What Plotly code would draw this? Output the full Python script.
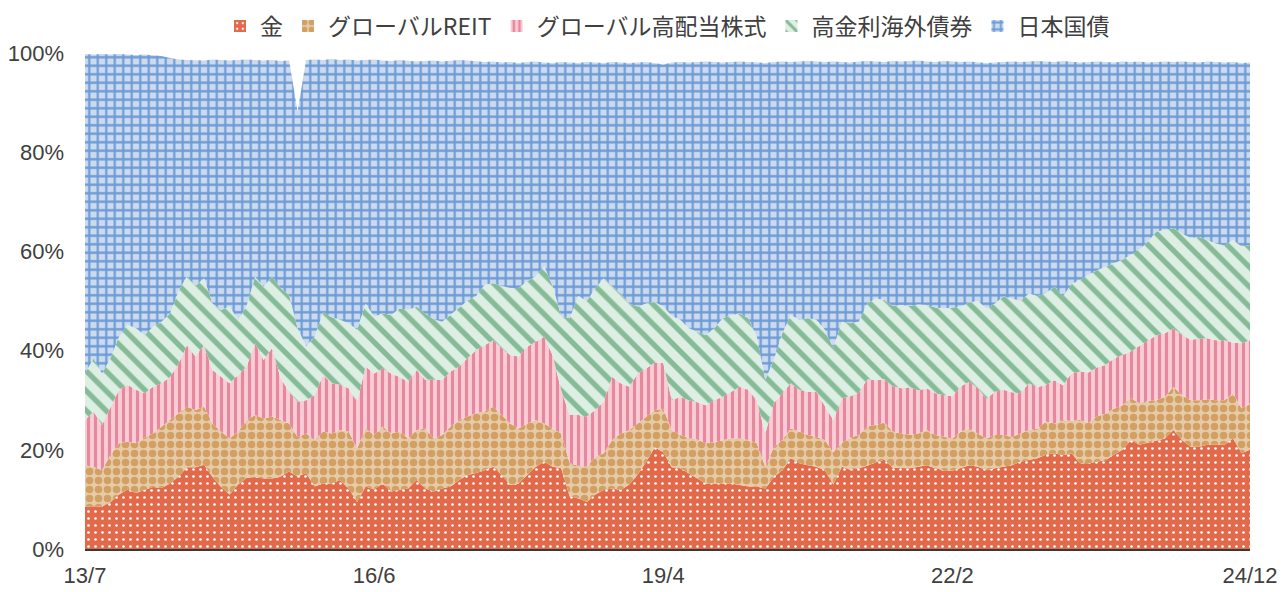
import plotly.graph_objects as go

# Monthly data 2013/7 .. 2024/12 (138 months), share of portfolio in %
months = [f"{(2013 + (6 + i) // 12) % 100:02d}/{(6 + i) % 12 + 1}" for i in range(138)]
tick_labels = ["13/7", "16/6", "19/4", "22/2", "24/12"]
tick_index = [0, 34, 68, 102, 137]

series_names = ["金", "グローバルREIT", "グローバル高配当株式", "高金利海外債券", "日本国債"]

gold = [8.5, 8.6, 8.5, 9.5, 11.0, 12.0, 11.3, 11.9, 12.5, 12.3, 13.2, 14.6, 16.5, 16.5, 17.0, 14.5,
        12.5, 11.0, 13.0, 14.3, 14.5, 14.2, 14.2, 14.6, 15.6, 14.6, 15.3, 12.6, 13.2, 13.2, 13.9, 12.2,
        9.5, 12.6, 12.0, 13.2, 11.6, 11.9, 12.2, 13.9, 12.2, 11.6, 12.2, 12.6, 13.9, 14.9, 15.3, 15.9,
        16.6, 14.9, 12.9, 13.2, 14.9, 16.6, 17.6, 16.6, 16.3, 10.6, 10.3, 9.5, 11.0, 11.9, 12.2, 11.9,
        13.0, 15.0, 17.6, 20.5, 19.5, 16.5, 16.3, 15.3, 14.2, 13.2, 13.2, 13.2, 13.2, 12.9, 12.6, 12.6,
        12.2, 14.5, 15.9, 18.3, 17.3, 16.9, 16.6, 15.9, 13.0, 16.6, 16.0, 16.3, 16.8, 17.5, 18.0, 16.4,
        16.3, 16.3, 16.6, 16.9, 16.3, 15.9, 15.8, 16.3, 16.9, 16.6, 15.9, 16.3, 16.6, 16.9, 17.6, 17.9,
        18.3, 19.0, 19.3, 18.9, 19.3, 17.3, 17.3, 17.6, 17.9, 19.0, 20.0, 22.0, 21.0, 21.4, 21.8, 22.3,
        24.0, 22.0, 20.6, 20.6, 21.0, 21.0, 21.0, 22.3, 19.3, 20.0]

reit = [8.4, 8.0, 7.4, 9.5, 10.3, 9.6, 10.0, 10.6, 10.8, 12.4, 12.8, 12.8, 12.2, 11.5, 11.7, 10.8,
        11.2, 11.3, 10.7, 11.7, 12.5, 12.1, 12.5, 11.4, 9.7, 8.0, 8.0, 9.4, 10.5, 10.1, 10.1, 11.5,
        10.8, 11.7, 11.0, 11.5, 11.7, 11.8, 10.1, 10.1, 12.1, 10.7, 10.8, 12.1, 12.1, 11.8, 12.1, 11.8,
        12.1, 12.1, 12.4, 11.1, 10.4, 9.4, 7.7, 7.7, 7.0, 6.7, 6.5, 7.1, 7.6, 7.4, 9.8, 11.4,
        11.0, 10.3, 9.1, 7.5, 8.8, 7.5, 6.7, 7.1, 7.9, 8.1, 8.3, 8.8, 9.1, 9.4, 9.4, 8.7,
        4.4, 6.0, 6.1, 6.0, 6.4, 6.1, 6.0, 6.1, 6.5, 4.7, 6.5, 6.7, 7.9, 7.5, 7.5, 7.3,
        7.0, 6.7, 6.7, 7.1, 6.7, 6.7, 6.5, 7.4, 7.4, 6.7, 6.4, 6.7, 6.4, 5.7, 5.7, 6.1,
        6.0, 6.7, 6.0, 7.1, 6.5, 8.7, 8.1, 9.1, 9.4, 9.3, 9.0, 8.4, 8.4, 8.4, 8.2, 8.4,
        8.7, 9.0, 9.4, 9.4, 9.2, 9.0, 9.0, 9.1, 9.1, 9.4]

dividend = [9.1, 11.1, 9.1, 9.5, 10.8, 11.5, 10.8, 8.9, 9.4, 8.7, 8.7, 10.0, 12.4, 10.8, 12.4, 10.8,
            11.0, 11.1, 11.4, 10.8, 14.5, 11.8, 13.8, 8.5, 6.4, 7.1, 6.7, 9.0, 11.4, 10.1, 9.1, 8.7,
            9.4, 12.5, 12.4, 11.7, 12.1, 11.0, 11.4, 12.1, 9.8, 11.8, 11.1, 11.1, 10.8, 11.8, 12.7, 13.4,
            13.4, 13.5, 13.8, 14.5, 15.5, 15.8, 17.5, 14.7, 8.7, 9.7, 10.2, 10.1, 9.4, 10.4, 12.7, 10.1,
            8.7, 10.1, 9.7, 9.6, 9.2, 6.0, 7.7, 7.6, 7.5, 7.7, 8.5, 8.7, 9.4, 10.4, 10.1, 8.7,
            6.7, 8.9, 9.4, 9.1, 8.4, 8.7, 9.1, 6.7, 6.5, 9.1, 8.3, 8.5, 9.5, 9.0, 8.7, 9.1,
            9.1, 9.6, 8.7, 8.4, 8.4, 8.4, 8.5, 9.1, 9.4, 9.1, 8.0, 8.7, 9.1, 9.0, 8.1, 9.4,
            8.3, 7.4, 8.7, 7.0, 9.6, 9.8, 10.2, 9.9, 9.8, 10.1, 10.1, 9.4, 11.6, 12.3, 13.1, 12.8,
            11.8, 12.2, 12.2, 12.4, 12.3, 12.1, 12.1, 10.2, 13.1, 12.7]

hy_bond = [9.4, 10.7, 10.4, 10.0, 10.7, 12.1, 12.4, 11.7, 12.1, 12.4, 12.8, 14.6, 13.9, 14.2, 13.5, 13.4,
           13.5, 15.5, 11.1, 12.2, 13.4, 14.8, 14.4, 18.1, 19.5, 14.8, 10.9, 11.8, 12.7, 13.3, 13.1, 13.1,
           14.5, 12.7, 11.4, 11.1, 11.8, 13.8, 14.5, 12.8, 13.4, 12.2, 11.7, 11.4, 11.9, 11.6, 10.9, 12.2,
           11.5, 12.5, 13.5, 13.8, 13.2, 13.2, 14.2, 14.0, 15.0, 19.5, 24.0, 23.3, 24.5, 24.9, 18.3, 18.1,
           16.8, 13.5, 13.1, 12.2, 11.4, 17.0, 15.5, 14.5, 14.2, 14.1, 14.5, 15.8, 15.5, 14.8, 14.4, 12.8,
           10.8, 8.7, 12.1, 13.8, 14.1, 14.8, 14.5, 15.5, 14.5, 15.4, 14.7, 14.3, 15.3, 16.5, 16.0, 16.2,
           16.8, 16.4, 17.3, 16.8, 17.3, 17.5, 17.9, 16.1, 16.0, 17.6, 18.2, 17.8, 18.8, 18.9, 18.6, 18.1,
           18.4, 18.4, 18.9, 17.9, 18.0, 18.5, 19.6, 19.6, 19.8, 19.2, 19.2, 19.5, 19.4, 19.9, 20.9, 20.8,
           20.2, 20.4, 20.5, 20.5, 19.8, 19.5, 19.1, 20.7, 19.5, 19.2]

jgb = [64.4, 61.3, 64.4, 61.2, 57.0, 54.5, 55.1, 56.6, 54.7, 53.6, 51.5, 46.7, 43.6, 45.6, 43.9, 49.2,
       50.4, 49.6, 52.4, 49.7, 43.7, 45.6, 43.7, 45.8, 47.3, 43.7, 57.7, 55.9, 50.8, 52.1, 52.4, 53.2,
       54.3, 49.1, 51.9, 51.0, 51.2, 50.1, 50.3, 49.4, 50.9, 52.2, 52.5, 51.2, 49.9, 48.4, 47.3, 44.9,
       44.7, 45.1, 45.6, 45.4, 44.2, 43.3, 41.1, 45.0, 51.2, 51.6, 47.0, 48.2, 45.6, 43.4, 45.2, 46.6,
       48.5, 49.2, 48.7, 48.2, 48.8, 51.1, 52.0, 53.6, 54.4, 55.2, 53.7, 51.6, 51.0, 50.8, 51.7, 55.3,
       63.9, 60.1, 54.8, 51.0, 52.1, 51.9, 52.1, 54.0, 57.8, 52.4, 52.6, 52.5, 48.9, 47.8, 48.0, 49.4,
       49.1, 49.4, 49.2, 49.1, 49.5, 49.9, 49.6, 49.3, 48.6, 48.2, 49.5, 48.6, 47.3, 47.8, 48.2, 46.8,
       47.4, 46.8, 45.3, 47.5, 44.9, 43.8, 43.0, 42.1, 41.3, 40.5, 40.0, 38.9, 37.9, 36.1, 34.2, 34.0,
       33.5, 34.7, 35.5, 35.2, 36.0, 36.6, 36.9, 35.9, 37.0, 36.8]

values = [gold, reit, dividend, hy_bond, jgb]
patterns = [
    dict(shape=".", bgcolor="#E3694B", fgcolor="#FFFFFF", size=7, solidity=0.12, fillmode="replace"),
    dict(shape=".", bgcolor="#E6CBA8", fgcolor="#D3A063", size=9, solidity=0.55, fillmode="replace"),
    dict(shape="|", bgcolor="#F8CDD7", fgcolor="#E8889C", size=7, solidity=0.45, fillmode="replace"),
    dict(shape="\\", bgcolor="#DDEEE3", fgcolor="#86BB98", size=14, solidity=0.38, fillmode="replace"),
    dict(shape="+", bgcolor="#CCDAEE", fgcolor="#6C9BD6", size=8.5, solidity=0.45, fillmode="replace"),
]
base_colors = ["#E3694B", "#D3A063", "#E8889C", "#86BB98", "#6C9BD6"]

x = list(range(len(months)))
fig = go.Figure()
for name, vals, pat, col in zip(series_names, values, patterns, base_colors):
    fig.add_trace(go.Scatter(
        x=x, y=vals, name=name, customdata=months, stackgroup="one",
        mode="lines", line=dict(width=0, color=col), fillcolor=pat["bgcolor"],
        fillpattern=pat, showlegend=False,
        hovertemplate="%{customdata}: %{y:.1f}%<extra>" + name + "</extra>",
    ))
# legend entries (square swatches with the same patterns)
for name, pat, col in zip(series_names, patterns, base_colors):
    fig.add_trace(go.Bar(
        x=[None], y=[None], name=name,
        marker=dict(color=pat["bgcolor"], pattern=pat, line=dict(width=0)),
        showlegend=True,
    ))

# page body has an 8px margin: the figure is sized/offset to compensate
fig.update_layout(
    width=1280, height=584,
    margin=dict(l=77, r=38, t=45, b=43, autoexpand=False),
    paper_bgcolor="white", plot_bgcolor="white",
    font=dict(family="Liberation Sans, Arial, sans-serif", color="#404040"),
    showlegend=True,
    legend=dict(orientation="h", x=0.5, xanchor="center", y=1 + (45 - 18) / 496, yanchor="middle",
                traceorder="normal",
                font=dict(family="Noto Sans CJK JP, sans-serif", size=23, color="#404040"),
                itemwidth=30),
    xaxis=dict(range=[0, len(months) - 1], tickmode="array", tickvals=tick_index,
               ticktext=tick_labels, showgrid=False, zeroline=False, automargin=False,
               showline=True, linecolor="#3A3A3A", linewidth=2,
               ticks="", tickfont=dict(size=22, color="#404040"), ticklabelstandoff=6),
    yaxis=dict(range=[0, 100], tickvals=[0, 20, 40, 60, 80, 100], automargin=False,
               ticktext=["0%", "20%", "40%", "60%", "80%", "100%"],
               showgrid=True, gridcolor="#8C8C8C", griddash="dot", gridwidth=1.5,
               zeroline=False, showline=False, ticks="",
               tickfont=dict(size=22, color="#404040"), ticklabelstandoff=20),
)

fig.write_html("out.html")
